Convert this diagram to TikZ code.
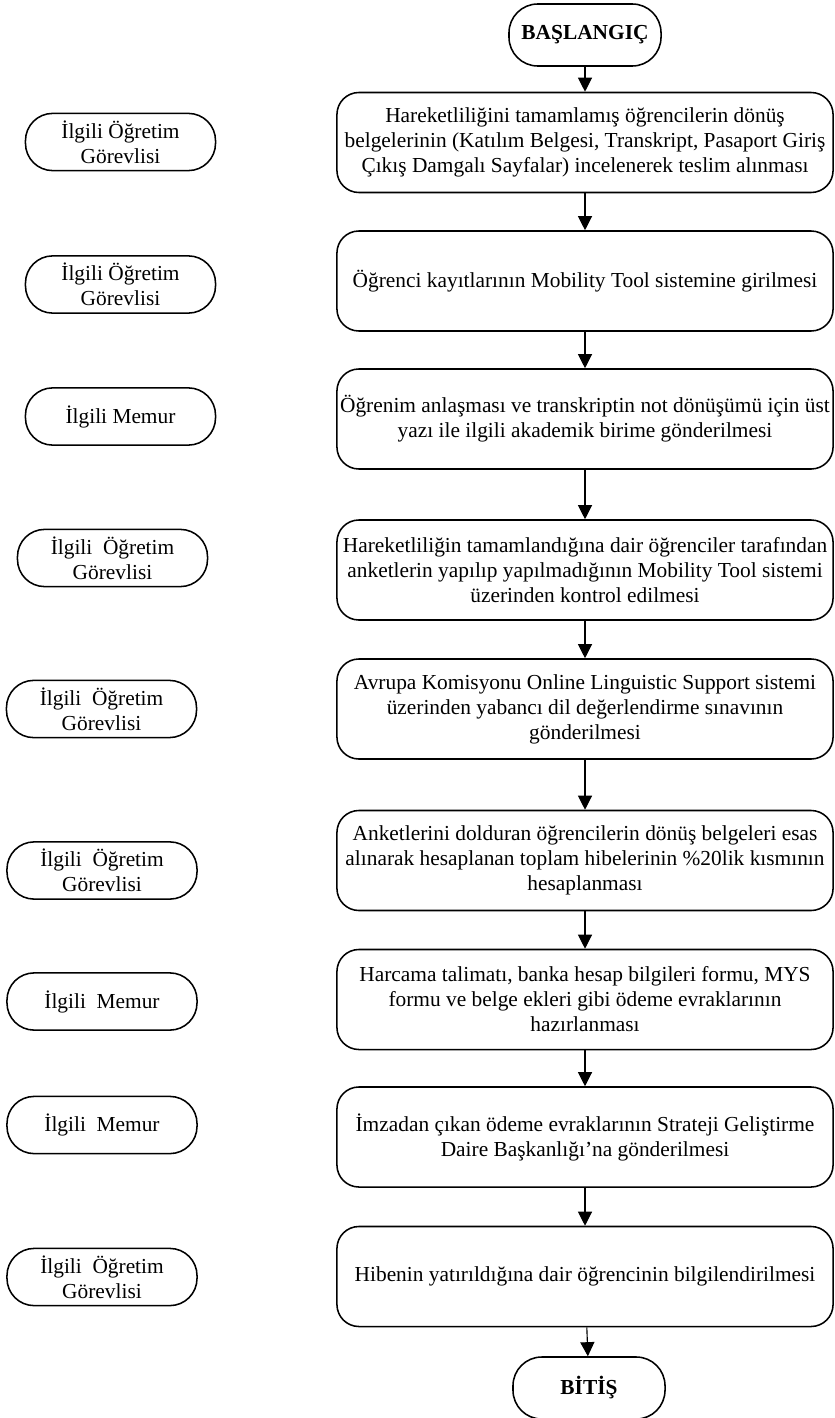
\documentclass[tikz,border=0pt]{standalone}
\usepackage{fontspec}
\setmainfont{Liberation Serif}
\usepackage{tikz}
\usetikzlibrary{arrows.meta}

\begin{document}
\begin{tikzpicture}[x=0.025cm,y=-0.025cm,>={Triangle[length=10pt,width=10pt]},font=\fontsize{15.2}{17.8}\selectfont]
		\tikzstyle{terminal}=[rectangle, rounded corners=0.72cm, draw=black, line width=1.1pt, minimum width=3.8cm, minimum height=1.55cm, font=\fontsize{15.2}{17.8}\selectfont\bfseries]
		\tikzstyle{process}=[rectangle, rounded corners=0.55cm, draw=black, line width=1.1pt, minimum width=12.4cm, minimum height=2.5cm, align=center, inner sep=1pt]
		\tikzstyle{actor}=[rectangle, rounded corners=0.68cm, draw=black, line width=1.1pt, minimum width=4.75cm, minimum height=1.43cm, align=center, inner sep=1pt]
		\tikzstyle{pre}=[<-, line width=0.8pt]

		\useasboundingbox (0,0) rectangle (834,1418);

		\node [terminal] (start) at (585,35) {BAŞLANGIÇ};

		\node [process] (s1) at (585,142.5) {Hareketliliğini tamamlamış öğrencilerin dönüş\\belgelerinin (Katılım Belgesi, Transkript, Pasaport Giriş\\Çıkış Damgalı Sayfalar) incelenerek teslim alınması}
		edge [pre] (start);

		\node [process] (s2) at (585,281) {Öğrenci kayıtlarının Mobility Tool sistemine girilmesi}
		edge [pre] (s1);

		\node [process] (s3) at (585,419) {Öğrenim anlaşması ve transkriptin not dönüşümü için üst\\yazı ile ilgili akademik birime gönderilmesi}
		edge [pre] (s2);

		\node [process] (s4) at (585,570) {Hareketliliğin tamamlandığına dair öğrenciler tarafından\\anketlerin yapılıp yapılmadığının Mobility Tool sistemi\\üzerinden kontrol edilmesi}
		edge [pre] (s3);

		\node [process] (s5) at (585,709) {Avrupa Komisyonu Online Linguistic Support sistemi\\üzerinden yabancı dil değerlendirme sınavının\\gönderilmesi}
		edge [pre] (s4);

		\node [process] (s6) at (585,860.5) {Anketlerini dolduran öğrencilerin dönüş belgeleri esas\\alınarak hesaplanan toplam hibelerinin \%20lik kısmının\\hesaplanması}
		edge [pre] (s5);

		\node [process] (s7) at (585,999.5) {Harcama talimatı, banka hesap bilgileri formu, MYS\\formu ve belge ekleri gibi ödeme evraklarının\\hazırlanması}
		edge [pre] (s6);

		\node [process] (s8) at (585,1137) {İmzadan çıkan ödeme evraklarının Strateji Geliştirme\\Daire Başkanlığı’na gönderilmesi}
		edge [pre] (s7);

		\node [process] (s9) at (585,1276.5) {Hibenin yatırıldığına dair öğrencinin bilgilendirilmesi}
		edge [pre] (s8);

		\node [terminal] (finish) at (589,1388) {BİTİŞ}
		edge [pre] (s9);

		\node [actor] (a1) at (120.5,142) {İlgili Öğretim\\Görevlisi};
		\node [actor] (a2) at (120.5,284.5) {İlgili Öğretim\\Görevlisi};
		\node [actor] (a3) at (120.5,416.5) {İlgili Memur};
		\node [actor] (a4) at (112.5,558) {İlgili~ Öğretim\\Görevlisi};
		\node [actor] (a5) at (101.5,709) {İlgili~ Öğretim\\Görevlisi};
		\node [actor] (a6) at (102,870.5) {İlgili~ Öğretim\\Görevlisi};
		\node [actor] (a7) at (102,1001.5) {İlgili~ Memur};
		\node [actor] (a8) at (102,1125) {İlgili~ Memur};
		\node [actor] (a9) at (102,1277) {İlgili~ Öğretim\\Görevlisi};
	\end{tikzpicture}
\end{document}
